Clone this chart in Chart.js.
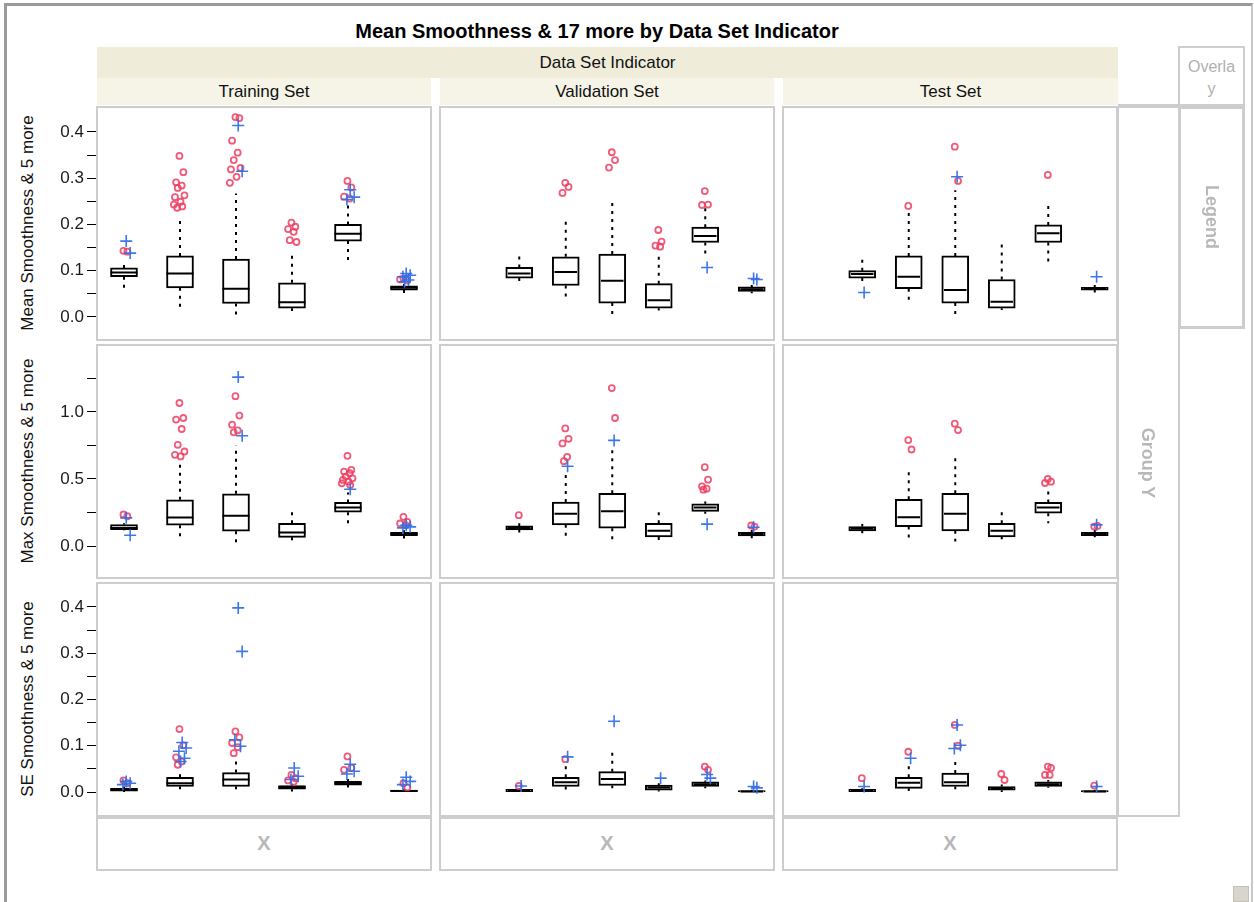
<!DOCTYPE html>
<html>
<head>
<meta charset="utf-8">
<script src="https://cdn.jsdelivr.net/npm/chart.js@4/dist/chart.umd.min.js"></script>
<style>
  body { margin: 0; background: #fff; font-family: "Liberation Sans", Arial, sans-serif; }
  #page { position: relative; width: 1254px; height: 902px; overflow: hidden; background: #fff; }
  .abs { position: absolute; }
  .frame { border-left: 3px solid #9a9a9a; border-top: 3px solid #9a9a9a; border-right: 2px solid #c8c8c8; }
  .band { background: #efedda; }
  .sub { background: #f5f4e7; }
  .hdr { text-align: center; font-size: 17px; color: #111; }
  .box { border: 2px solid #cdcdcd; box-sizing: border-box; pointer-events: none; }
  .ghost { color: #b8b8b8; font-weight: bold; text-align: center; }
  .ytitle { width: 260px; height: 20px; line-height: 20px; text-align: center; font-size: 17px; color: #111; transform: rotate(-90deg); }
  canvas { position: absolute; }
</style>
</head>
<body>
<div id="page">
  <div class="abs frame" style="left:4px; top:3px; width:1244px; height:899px;"></div>
  <div class="abs" style="left:97px; top:20px; width:1000px; text-align:center; font-weight:bold; font-size:20px; color:#000;">Mean Smoothness &amp; 17 more by Data Set Indicator</div>

  <div class="abs band hdr" style="left:97px; top:47px; width:1021px; height:31px; line-height:31px;">Data Set Indicator</div>
  <div class="abs sub hdr" style="left:97px; top:78px; width:334px; height:27px; line-height:27px;">Training Set</div>
  <div class="abs sub hdr" style="left:440px; top:78px; width:334px; height:27px; line-height:27px;">Validation Set</div>
  <div class="abs sub hdr" style="left:783px; top:78px; width:335px; height:27px; line-height:27px;">Test Set</div>

  <div class="abs ytitle" style="left:-102px; top:213px;">Mean Smoothness &amp; 5 more</div>
  <div class="abs ytitle" style="left:-102px; top:451px;">Max Smoothness &amp; 5 more</div>
  <div class="abs ytitle" style="left:-102px; top:689px;">SE Smoothness &amp; 5 more</div>

  <canvas id="c00"></canvas><canvas id="c01"></canvas><canvas id="c02"></canvas>
  <canvas id="c10"></canvas><canvas id="c11"></canvas><canvas id="c12"></canvas>
  <canvas id="c20"></canvas><canvas id="c21"></canvas><canvas id="c22"></canvas>

  <div id="boxes"></div>

  <!-- Overlay / Legend / Group Y / X drop zones -->
  <div class="abs box" style="left:1178px; top:46px; width:67px; height:60px;"></div>
  <div class="abs" style="left:1178px; top:56px; width:67px; text-align:center; font-size:16px; line-height:22px; color:#b0b0b0;">Overla<br>y</div>
  <div class="abs box" style="left:1118px; top:104px; width:127px; height:4px; border-width:2px 0 0 0;"></div>
  <div class="abs box" style="left:1117px; top:106px; width:63px; height:711px;"></div>
  <div class="abs box" style="left:1178px; top:106px; width:67px; height:223px; border-width:3px;"></div>
  <div class="abs ghost" style="left:1111px; top:451px; width:74px; height:24px; line-height:24px; font-size:18px; transform:rotate(90deg);">Group Y</div>
  <div class="abs ghost" style="left:1175px; top:205px; width:74px; height:24px; line-height:24px; font-size:18px; transform:rotate(90deg);">Legend</div>
  <div class="abs box" style="left:96px; top:817px; width:336px; height:54px;"></div>
  <div class="abs box" style="left:439px; top:817px; width:336px; height:54px;"></div>
  <div class="abs box" style="left:782px; top:817px; width:336px; height:54px;"></div>
  <div class="abs ghost" style="left:96px; top:832px; width:336px; font-size:20px;">X</div>
  <div class="abs ghost" style="left:439px; top:832px; width:336px; font-size:20px;">X</div>
  <div class="abs ghost" style="left:782px; top:832px; width:336px; font-size:20px;">X</div>
  <div class="abs" style="left:1233px; top:886px; width:16px; height:16px; background:#d8d5cc; border:1px solid #c4c1b8; box-sizing:border-box;"></div>
</div>

<script>
// Box plots: [low whisker, Q1, median, Q3, high whisker], 6 variables per panel
const meanTrain = [[0.061, 0.087, 0.096, 0.106, 0.113], [0.020, 0.063, 0.094, 0.132, 0.216], [0.004, 0.029, 0.061, 0.125, 0.267], [0.013, 0.019, 0.032, 0.074, 0.137], [0.119, 0.164, 0.180, 0.200, 0.245], [0.051, 0.058, 0.063, 0.067, 0.071]];
const meanValid = [[0.076, 0.084, 0.094, 0.107, 0.134], [0.040, 0.068, 0.097, 0.130, 0.213], [0.002, 0.030, 0.078, 0.136, 0.256], [0.014, 0.019, 0.036, 0.072, 0.136], [0.134, 0.161, 0.175, 0.194, 0.235], [0.051, 0.055, 0.060, 0.065, 0.069]];
const meanTest = [[0.076, 0.084, 0.093, 0.100, 0.127], [0.037, 0.061, 0.087, 0.132, 0.231], [0.004, 0.030, 0.058, 0.132, 0.274], [0.015, 0.019, 0.033, 0.081, 0.163], [0.116, 0.161, 0.181, 0.199, 0.242], [0.053, 0.058, 0.061, 0.064, 0.069]];
const maxTrain = [[0.117, 0.122, 0.135, 0.160, 0.170], [0.062, 0.155, 0.212, 0.345, 0.640], [0.025, 0.110, 0.225, 0.390, 0.750], [0.043, 0.065, 0.100, 0.170, 0.255], [0.168, 0.252, 0.288, 0.325, 0.400], [0.055, 0.078, 0.090, 0.102, 0.118]];
const maxValid = [[0.100, 0.120, 0.135, 0.150, 0.170], [0.065, 0.158, 0.240, 0.328, 0.545], [0.045, 0.133, 0.260, 0.393, 0.750], [0.045, 0.068, 0.113, 0.170, 0.258], [0.240, 0.258, 0.288, 0.315, 0.333], [0.058, 0.075, 0.090, 0.103, 0.120]];
const maxTest = [[0.095, 0.113, 0.130, 0.145, 0.165], [0.058, 0.145, 0.215, 0.348, 0.570], [0.033, 0.113, 0.240, 0.393, 0.683], [0.050, 0.068, 0.113, 0.170, 0.258], [0.170, 0.245, 0.288, 0.325, 0.408], [0.065, 0.078, 0.090, 0.102, 0.120]];
const seTrain = [[0.000, 0.002, 0.005, 0.008, 0.012], [0.006, 0.012, 0.019, 0.032, 0.039], [0.006, 0.012, 0.027, 0.042, 0.066], [0.001, 0.006, 0.010, 0.014, 0.018], [0.010, 0.015, 0.019, 0.023, 0.028], [0.000, 0.000, 0.002, 0.004, 0.006]];
const seValid = [[0.000, 0.001, 0.003, 0.006, 0.008], [0.004, 0.012, 0.021, 0.032, 0.057], [0.008, 0.014, 0.028, 0.044, 0.089], [0.001, 0.004, 0.010, 0.015, 0.019], [0.008, 0.012, 0.017, 0.022, 0.025], [0.000, 0.000, 0.001, 0.003, 0.005]];
const seTest = [[0.000, 0.001, 0.003, 0.006, 0.008], [0.002, 0.008, 0.020, 0.032, 0.058], [0.006, 0.012, 0.021, 0.041, 0.069], [0.000, 0.004, 0.008, 0.012, 0.016], [0.009, 0.012, 0.017, 0.022, 0.026], [0.000, 0.000, 0.001, 0.003, 0.005]];

// Outliers drawn as red circles
const meanTrainOut = [[0.143, 0.141], [0.348, 0.313, 0.291, 0.284, 0.279, 0.263, 0.259, 0.249, 0.243, 0.239, 0.236], [0.432, 0.430, 0.381, 0.355, 0.339, 0.322, 0.319, 0.303, 0.290], [0.204, 0.195, 0.190, 0.184, 0.166, 0.162], [0.294, 0.280, 0.260, 0.256], [0.083, 0.079, 0.081]];
const meanValidOut = [[], [0.290, 0.281, 0.268], [0.356, 0.339, 0.323], [0.188, 0.163, 0.154, 0.152], [0.272, 0.243, 0.242], []];
const meanTestOut = [[], [0.240], [0.368, 0.294], [], [0.307], []];
const maxTrainOut = [[0.235, 0.222], [1.067, 0.955, 0.943, 0.873, 0.755, 0.705, 0.680, 0.668], [1.118, 0.973, 0.905, 0.862, 0.848], [], [0.673, 0.568, 0.555, 0.543, 0.518, 0.505, 0.493, 0.480, 0.468, 0.455], [0.218, 0.180, 0.168, 0.155]];
const maxValidOut = [[0.230], [0.877, 0.800, 0.765, 0.665, 0.633], [1.178, 0.955], [], [0.588, 0.495, 0.445, 0.428, 0.420], [0.153, 0.145]];
const maxTestOut = [[], [0.790, 0.720], [0.913, 0.865], [], [0.500, 0.480, 0.470], [0.145, 0.150]];
const seTrainOut = [[0.025, 0.019], [0.136, 0.101, 0.075, 0.066, 0.059], [0.131, 0.118, 0.106, 0.097, 0.084], [0.037, 0.030, 0.025, 0.022], [0.077, 0.052, 0.048], [0.019, 0.010]];
const seValidOut = [[0.013], [0.071], [], [], [0.055, 0.048], []];
const seTestOut = [[0.030], [0.087], [0.145, 0.100], [0.039, 0.026], [0.055, 0.052, 0.037, 0.037], [0.014]];

// Far outliers drawn as blue crosses
const meanTrainFar = [[0.164, 0.138], [], [0.414, 0.315], [], [0.275, 0.259, 0.254], [0.094, 0.090, 0.087, 0.080, 0.076]];
const meanValidFar = [[], [], [], [], [0.107], [0.083, 0.081]];
const meanTestFar = [[0.053], [], [0.303], [], [], [0.087]];
const maxTrainFar = [[0.210, 0.080], [], [1.260, 0.823], [], [0.423], [0.155, 0.143, 0.135]];
const maxValidFar = [[], [0.595], [0.788], [], [0.163], [0.140]];
const maxTestFar = [[], [], [], [], [], [0.158]];
const seTrainFar = [[0.023, 0.019, 0.016], [0.107, 0.095, 0.088, 0.073, 0.066], [0.398, 0.304, 0.113, 0.099], [0.052, 0.034, 0.027], [0.060, 0.045, 0.039], [0.032, 0.023, 0.016]];
const seValidFar = [[0.013], [0.076], [0.153], [0.030], [0.038, 0.030], [0.012, 0.009]];
const seTestFar = [[0.012], [0.073], [0.145, 0.101, 0.094], [], [], [0.012]];

// Y axis settings per row: [min, max, tick step, label step]
const rowAxes = [[-0.052, 0.456, 0.05, 0.1], [-0.246, 1.507, 0.25, 0.5], [-0.054, 0.454, 0.05, 0.1]];

const panelBoxes = [[meanTrain, meanValid, meanTest], [maxTrain, maxValid, maxTest], [seTrain, seValid, seTest]];
const panelOut = [[meanTrainOut, meanValidOut, meanTestOut], [maxTrainOut, maxValidOut, maxTestOut], [seTrainOut, seValidOut, seTestOut]];
const panelFar = [[meanTrainFar, meanValidFar, meanTestFar], [maxTrainFar, maxValidFar, maxTestFar], [seTrainFar, seValidFar, seTestFar]];

const colX = [96, 439, 782];
const rowY = [106, 344, 582];
const PANEL_W = 336, PANEL_H = 235, AXIS_W = 57;
const HALF = 0.242; // half box width in category units
const jitter = [0, 0.07, -0.06, 0.04, -0.03, 0.09, -0.08, 0.02, -0.1, 0.05, -0.04];

function pointsFor(groups, shift) {
  const pts = [];
  groups.forEach((vals, i) => {
    vals.forEach((v, k) => pts.push({ x: i + 1 + shift + jitter[k % jitter.length], y: v }));
  });
  return pts;
}

function createPanel(r, c) {
  const canvas = document.getElementById('c' + r + c);
  const withAxis = c === 0;
  const left = withAxis ? colX[0] - AXIS_W : colX[c];
  const width = withAxis ? PANEL_W + AXIS_W : PANEL_W;
  canvas.width = width;
  canvas.height = PANEL_H;
  canvas.style.left = left + 'px';
  canvas.style.top = rowY[r] + 'px';
  canvas.style.width = width + 'px';
  canvas.style.height = PANEL_H + 'px';

  const boxes = panelBoxes[r][c];
  const [yMin, yMax, step, labelStep] = rowAxes[r];

  const whiskers = [];
  const medians = [];
  boxes.forEach((b, i) => {
    const x = i + 1;
    whiskers.push({ x: x, y: b[3] }, { x: x, y: b[4] }, { x: x, y: null });
    whiskers.push({ x: x, y: b[1] }, { x: x, y: b[0] }, { x: x, y: null });
    medians.push({ x: x - HALF, y: b[2] }, { x: x + HALF, y: b[2] }, { x: x + HALF, y: null });
  });

  new Chart(canvas.getContext('2d'), {
    type: 'bar',
    data: {
      datasets: [
        {
          type: 'scatter',
          data: pointsFor(panelOut[r][c], -0.01),
          pointStyle: 'circle',
          pointRadius: 3,
          backgroundColor: 'rgba(0,0,0,0)',
          borderColor: 'rgba(236,62,98,0.85)',
          borderWidth: 1.8,
          order: -1
        },
        {
          type: 'scatter',
          data: pointsFor(panelFar[r][c], 0.04),
          pointStyle: 'cross',
          pointRadius: 6,
          borderColor: 'rgba(50,112,232,0.95)',
          borderWidth: 1.6,
          order: -2
        },
        {
          type: 'line',
          data: medians,
          borderColor: '#000',
          borderWidth: 2,
          pointRadius: 0,
          spanGaps: false,
          order: 0
        },
        {
          data: boxes.map((b, i) => ({ x: i + 1, y: [b[1], b[3]] })),
          backgroundColor: '#fff',
          borderColor: '#000',
          borderWidth: 2,
          borderSkipped: false,
          barThickness: 27,
          order: 1
        },
        {
          type: 'line',
          data: whiskers,
          borderColor: '#000',
          borderWidth: 2,
          borderDash: [3, 5],
          pointRadius: 0,
          spanGaps: false,
          order: 2
        }
      ]
    },
    options: {
      responsive: false,
      animation: false,
      events: [],
      layout: { padding: 0, autoPadding: false },
      plugins: { legend: { display: false }, tooltip: { enabled: false } },
      scales: {
        x: { type: 'linear', min: 0.5, max: 6.5, display: false, offset: false },
        y: {
          type: 'linear',
          min: yMin,
          max: yMax,
          display: withAxis,
          border: { display: false },
          grid: { drawOnChartArea: false, tickLength: 9, color: '#000', tickWidth: 1 },
          ticks: {
            stepSize: step,
            autoSkip: false,
            padding: 3,
            color: '#1a1a1a',
            font: { family: '"Liberation Sans", Arial, sans-serif', size: 17 },
            callback: function(value) {
              const k = value / labelStep;
              return Math.abs(k - Math.round(k)) < 1e-6 ? value.toFixed(1) : '';
            }
          },
          afterBuildTicks: function(scale) {
            scale.ticks = scale.ticks.filter(t => {
              const k = t.value / step;
              return Math.abs(k - Math.round(k)) < 1e-6;
            });
          },
          afterFit: function(scale) {
            scale.width = AXIS_W;
            scale.paddingTop = 0;
            scale.paddingBottom = 0;
          }
        }
      }
    }
  });

  // panel frame
  const frame = document.createElement('div');
  frame.className = 'abs box';
  frame.style.left = colX[c] + 'px';
  frame.style.top = rowY[r] + 'px';
  frame.style.width = PANEL_W + 'px';
  frame.style.height = PANEL_H + 'px';
  document.getElementById('boxes').appendChild(frame);
}

for (let r = 0; r < 3; r++) {
  for (let c = 0; c < 3; c++) {
    createPanel(r, c);
  }
}
</script>
</body>
</html>
